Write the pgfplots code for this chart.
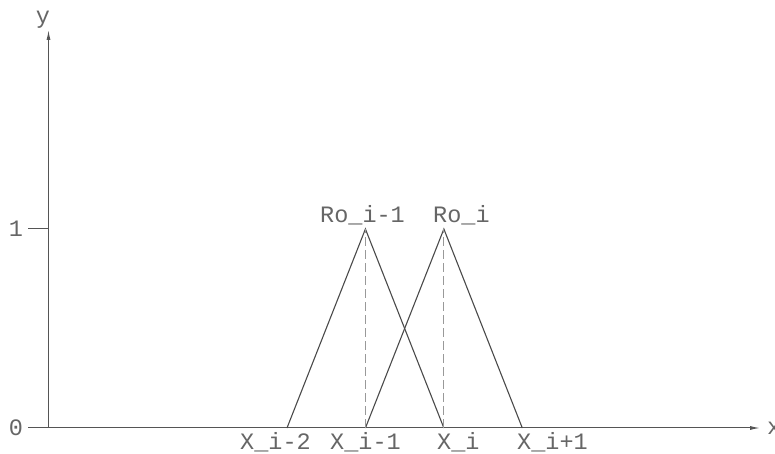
\documentclass[border=0pt]{standalone}
\usepackage{fontspec}
\setmainfont{Liberation Sans}
\newfontfamily\cadfont{Liberation Mono}
\usepackage{pgfplots}
\pgfplotsset{compat=1.18}
\usetikzlibrary{arrows.meta}

\definecolor{axisgray}{HTML}{555555}
\definecolor{linegray}{HTML}{4A4A4A}
\definecolor{dashgray}{HTML}{999999}
\definecolor{labelgray}{HTML}{666666}

\newcommand{\lbl}{\cadfont\fontsize{23.5}{24}\selectfont\color{labelgray}}

\begin{document}
\begin{tikzpicture}
\begin{axis}[
  scale only axis,
  width=711.5pt, height=398pt,
  xmin=-0.04, xmax=9.03, ymin=0, ymax=2,
  axis lines=left,
  axis line style={draw=axisgray, line width=1pt, -{Latex[length=10pt,width=4pt]}},
  xtick=\empty, ytick={0,1},
  tick align=outside, major tick length=20pt,
  tick style={draw=axisgray, line width=1pt},
  /pgf/number format/assume math mode=true,
  yticklabel style={font=\lbl, anchor=east, xshift=-2pt},
  clip=false,
]
% membership functions of the two neighbouring nodes
\addplot[linegray, line width=1.1pt] coordinates {(3,0) (4,1) (5,0)};
\addplot[linegray, line width=1.1pt] coordinates {(4,0) (5,1) (6,0)};
% peak markers
\addplot[dashgray, line width=1.1pt, dash pattern=on 9pt off 4pt] coordinates {(4,0) (4,1)};
\addplot[dashgray, line width=1.1pt, dash pattern=on 9pt off 4pt] coordinates {(5,0) (5,1)};
\end{axis}
% node labels (origin of the picture is the axis corner)
\node[anchor=base west, inner sep=0] at (191.5pt,-21.5pt) {\lbl X\_i-2};
\node[anchor=base west, inner sep=0] at (281.5pt,-21.5pt) {\lbl X\_i-1};
\node[anchor=base west, inner sep=0] at (388.5pt,-21.5pt) {\lbl X\_i};
\node[anchor=base west, inner sep=0] at (468.5pt,-21.5pt) {\lbl X\_i+1};
\node[anchor=base west, inner sep=0] at (271.5pt,205pt) {\lbl Ro\_i-1};
\node[anchor=base west, inner sep=0] at (384.5pt,205pt) {\lbl Ro\_i};
% axis names
\node[inner sep=0] at (-5.5pt,408pt) {\lbl y};
\node[anchor=west, inner sep=0] at (718.5pt,0pt) {\lbl x};
% page frame
\pgfresetboundingbox
\path[use as bounding box] (-48.5pt,-26pt) rectangle (726.5pt,428pt);
\end{tikzpicture}
\end{document}
